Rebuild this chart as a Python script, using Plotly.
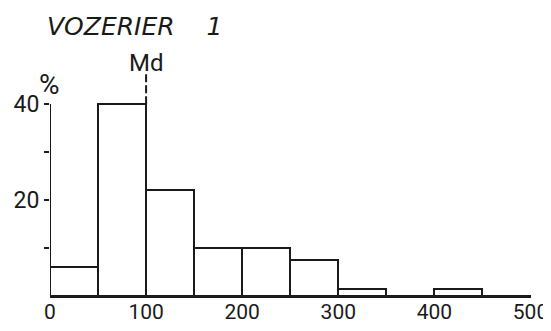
import plotly.graph_objects as go

# class edges (left) and percentage per class
bin_left = [0, 50, 100, 150, 200, 250, 300, 350, 400, 450]
bin_width = 50
percent = [6, 40, 22, 10, 10, 7.5, 1.5, 0, 1.5, 0]
median = 100

x_ticks = [0, 100, 200, 300, 400, 500]
y_ticks = [10, 20, 30, 40]
y_tick_text = ["", "20", "", "40"]

ink = "#1a1a1a"
label_font = dict(family="Roboto, sans-serif", size=23, color=ink)

fig = go.Figure()
fig.add_trace(
    go.Bar(
        x=[b + bin_width / 2 for b in bin_left],
        y=percent,
        width=bin_width,
        marker=dict(color="white", line=dict(color=ink, width=2)),
        showlegend=False,
    )
)

# y axis drawn only up to the top tick
fig.add_shape(type="line", x0=0, x1=0, y0=0, y1=max(y_ticks), line=dict(color=ink, width=2))
# median marker
fig.add_shape(
    type="line", x0=median, x1=median, y1=max(percent), y0=46.2,
    line=dict(color=ink, width=2, dash="8px,3px"),
)

fig.add_annotation(x=median, y=48.6, text="Md", showarrow=False, font=dict(label_font, size=24))
fig.add_annotation(x=0, y=44.0, text="%", showarrow=False, xshift=-1,
                   font=dict(label_font, size=28))
fig.add_annotation(
    xref="paper", yref="paper", x=0, y=1.125, xanchor="left", yanchor="middle",
    xshift=-5, text="VOZERIER\u00a0\u00a0\u00a0\u00a01", showarrow=False,
    font=dict(family="DejaVu Sans, sans-serif", size=25, color=ink, style="italic"),
)

# page body adds an 8px offset, so the figure is sized to fit inside the window
fig.update_layout(
    width=543,
    height=315,
    margin=dict(l=42, r=20, t=48, b=27),
    paper_bgcolor="white",
    plot_bgcolor="white",
    bargap=0,
)
fig.update_xaxes(
    range=[0, 500.5], tickvals=x_ticks, showline=True, linecolor=ink, linewidth=2,
    showgrid=False, zeroline=False, ticks="", tickfont=dict(label_font, size=21),
    automargin=False, ticklabelstandoff=-4,
)
fig.update_yaxes(
    range=[0, 50], tickvals=y_ticks, ticktext=y_tick_text, showline=False,
    showgrid=False, zeroline=False, ticks="outside", ticklen=5, tickwidth=2,
    tickcolor=ink, tickfont=label_font, automargin=False,
)

fig.write_html("out.html")
